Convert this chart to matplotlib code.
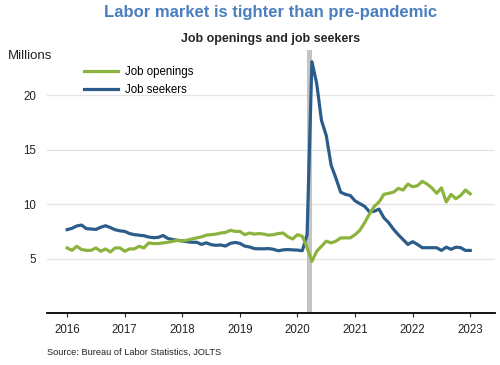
import numpy as np
import matplotlib
matplotlib.use("Agg")
import matplotlib.pyplot as plt

plt.rcParams['font.family'] = ['Liberation Sans', 'DejaVu Sans']

# monthly, Jan 2016 - Jan 2023 (millions)
openings = [
    5.98, 5.76, 6.13, 5.83, 5.76, 5.76, 5.98, 5.67, 5.89, 5.61, 5.98, 5.98,
    5.67, 5.89, 5.89, 6.13, 5.98, 6.44, 6.38, 6.38, 6.44, 6.50, 6.59, 6.68,
    6.60, 6.70, 6.80, 6.90, 7.00, 7.15, 7.20, 7.25, 7.35, 7.40, 7.60, 7.50,
    7.50, 7.20, 7.35, 7.25, 7.30, 7.25, 7.15, 7.20, 7.30, 7.35, 7.00, 6.80,
    7.20, 7.05, 6.00, 4.75, 5.67, 6.13, 6.60, 6.44, 6.60, 6.90, 6.90, 6.90,
    7.20, 7.60, 8.30, 9.10, 9.80, 10.2, 10.9, 11.0, 11.1, 11.45, 11.3, 11.85,
    11.6, 11.7, 12.1, 11.85, 11.5, 11.0, 11.5, 10.2, 10.9, 10.5, 10.8, 11.3,
    10.95,
]
seekers = [
    7.66, 7.78, 8.00, 8.08, 7.75, 7.72, 7.68, 7.88, 8.02, 7.85, 7.65, 7.55,
    7.50, 7.30, 7.20, 7.15, 7.10, 6.98, 6.92, 6.95, 7.12, 6.85, 6.75, 6.68,
    6.62, 6.55, 6.50, 6.50, 6.30, 6.45, 6.28, 6.22, 6.25, 6.15, 6.40, 6.48,
    6.40, 6.15, 6.07, 5.92, 5.90, 5.90, 5.92, 5.85, 5.72, 5.80, 5.83, 5.80,
    5.78, 5.72, 7.20, 23.1, 21.1, 17.7, 16.3, 13.6, 12.4, 11.1, 10.9, 10.8,
    10.3, 10.05, 9.80, 9.30, 9.35, 9.55, 8.75, 8.30, 7.70, 7.20, 6.75, 6.30,
    6.55, 6.30, 6.00, 6.00, 6.00, 6.00, 5.75, 6.05, 5.85, 6.05, 6.00, 5.75,
    5.75,
]
t = 2016 + np.arange(len(openings)) / 12
years = list(range(2016, 2024))
recession = (2020.17, 2020.26)

green = '#8db33f'
blue = '#2c5d8a'

fig = plt.figure(figsize=(5, 3.65), dpi=100)
ax = fig.add_axes([0.094, 0.1425, 0.896, 0.7205])

ax.axvspan(*recession, color='#c4c4c4', lw=0, zorder=1)
l2, = ax.plot(t, seekers, color=blue, lw=2.3, zorder=3, label='Job seekers')
l1, = ax.plot(t, openings, color=green, lw=2.3, zorder=3, label='Job openings')

ax.set_xlim(2015.65, 2023.43)
ax.set_ylim(0, 24.17)
ax.set_yticks([5, 10, 15, 20])
ax.set_xticks(years)
ax.yaxis.grid(True, color='#e3e3e3', lw=0.9, zorder=0)
ax.set_axisbelow(True)
for s in ['left', 'right', 'top']:
    ax.spines[s].set_visible(False)
ax.spines['bottom'].set_linewidth(1.3)
ax.tick_params(axis='y', length=0, labelsize=8.3, pad=8, colors='#222222')
ax.tick_params(axis='x', length=3, width=0.8, labelsize=8.3, pad=5, colors='#222222')

ax.legend(handles=[l1, l2], loc='upper left', bbox_to_anchor=(0.082, 0.94),
          frameon=False, fontsize=8.3, handlelength=3.0, handletextpad=0.6,
          labelspacing=0.58, borderpad=0, borderaxespad=0)

fig.text(0.542, 0.967, 'Labor market is tighter than pre-pandemic', ha='center',
         va='center', fontsize=12, fontweight='bold', color='#4a7ebf')
fig.text(0.542, 0.893, 'Job openings and job seekers', ha='center', va='center',
         fontsize=9, fontweight='bold', color='#262626')
fig.text(0.016, 0.847, 'Millions', ha='left', va='center', fontsize=9.5, color='#222222')
fig.text(0.094, 0.035, 'Source: Bureau of Labor Statistics, JOLTS', ha='left',
         va='center', fontsize=6.7, color='#222222')

fig.savefig('out.png', dpi=100)
